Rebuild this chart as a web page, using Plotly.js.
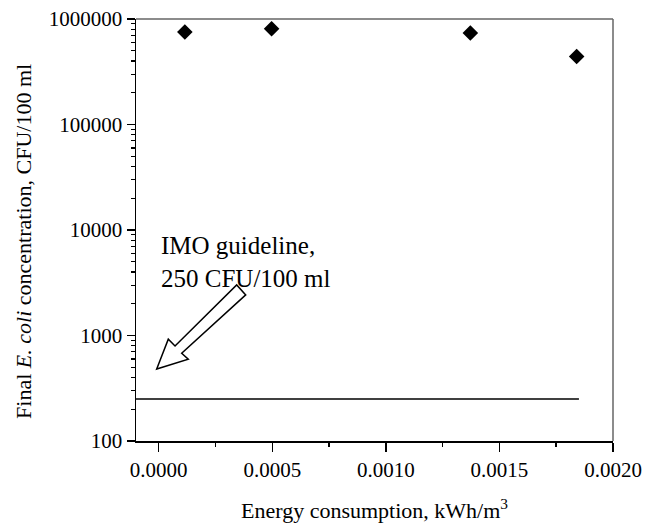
<!DOCTYPE html>
<html>
<head>
<meta charset="utf-8">
<script src="https://cdn.plot.ly/plotly-3.0.1.min.js"></script>
<style>html,body{margin:0;padding:0;background:#fff;}#chart{width:646px;height:528px;}</style>
</head>
<body>
<div id="chart"></div>
<script>
// Data
const energyX = [0.000115, 0.000497, 0.001372, 0.00184];   // kWh/m3
const ecoliY = [753000, 809000, 736000, 441000];            // CFU/100 ml
const guideX = [-0.0001, 0.00185];
const guideY = [250, 250];
const xTickVals = [0, 0.0005, 0.001, 0.0015, 0.002];
const xTickText = ['0.0000', '0.0005', '0.0010', '0.0015', '0.0020'];
const yTickVals = [100, 1000, 10000, 100000, 1000000];
const yTickText = ['100', '1000', '10000', '100000', '1000000'];

const FONT = 'Liberation Serif, Times New Roman, serif';

const traces = [
  {
    x: guideX, y: guideY, type: 'scatter', mode: 'lines',
    line: {color: '#000', width: 1.5}, hoverinfo: 'skip', showlegend: false
  },
  {
    x: energyX, y: ecoliY, type: 'scatter', mode: 'markers',
    marker: {symbol: 'diamond', size: 12, color: '#000'}, showlegend: false
  }
];

const layout = {
  width: 646, height: 528,
  margin: {l: 136, r: 33, t: 19, b: 87},
  paper_bgcolor: '#fff', plot_bgcolor: '#fff',
  font: {family: FONT, size: 21, color: '#000'},
  showlegend: false,
  xaxis: {
    range: [-0.0001, 0.002],
    tickvals: xTickVals, ticktext: xTickText,
    ticks: 'outside', ticklen: 9, tickwidth: 1.5, tickcolor: '#000',
    minor: {dtick: 0.00025, ticks: 'outside', ticklen: 4, tickwidth: 1.5, tickcolor: '#000', showgrid: false},
    showline: true, linecolor: '#000', linewidth: 1.5,
    showgrid: false, zeroline: false,
    tickfont: {family: FONT, size: 21},
    title: {text: 'Energy consumption, kWh/m<sup>3</sup>', font: {family: FONT, size: 22}, standoff: 22}
  },
  yaxis: {
    type: 'log', range: [2, 6],
    tickvals: yTickVals, ticktext: yTickText,
    ticks: 'outside', ticklen: 8, tickwidth: 1.5, tickcolor: '#000',
    minor: {dtick: 'D1', ticks: 'outside', ticklen: 4, tickwidth: 1.2, tickcolor: '#000', showgrid: false},
    showline: true, linecolor: '#000', linewidth: 1.5,
    showgrid: false, zeroline: false,
    tickfont: {family: FONT, size: 21}
  },
  shapes: [
    // top and right frame lines
    {type: 'line', xref: 'paper', yref: 'paper', x0: 0, x1: 1, y0: 1, y1: 1, line: {color: '#666', width: 1.5}},
    {type: 'line', xref: 'paper', yref: 'paper', x0: 1, x1: 1, y0: 0, y1: 1, line: {color: '#666', width: 1.5}},
    // hollow block arrow
    {type: 'path', xref: 'paper', yref: 'paper',
     path: 'M0.0434,0.1707 L0.0677,0.2412 L0.0818,0.2253 L0.2111,0.3699 L0.2300,0.3462 L0.0958,0.2080 L0.1096,0.1937 Z',
     line: {color: '#000', width: 1.5}, fillcolor: '#fff'}
  ],
  annotations: [
    {xref: 'paper', yref: 'paper', x: 0.048, y: 0.50, xanchor: 'left', yanchor: 'top',
     align: 'left', showarrow: false,
     text: 'IMO guideline,<br>250 CFU/100 ml', font: {family: FONT, size: 25}},
    {xref: 'paper', yref: 'paper', x: -0.235, y: 0.474, xanchor: 'center', yanchor: 'middle',
     textangle: -90, showarrow: false,
     text: 'Final <i>E. coli</i> concentration, CFU/100 ml', font: {family: FONT, size: 22}}
  ]
};

Plotly.newPlot('chart', traces, layout, {displayModeBar: false, staticPlot: true});
</script>
</body>
</html>
